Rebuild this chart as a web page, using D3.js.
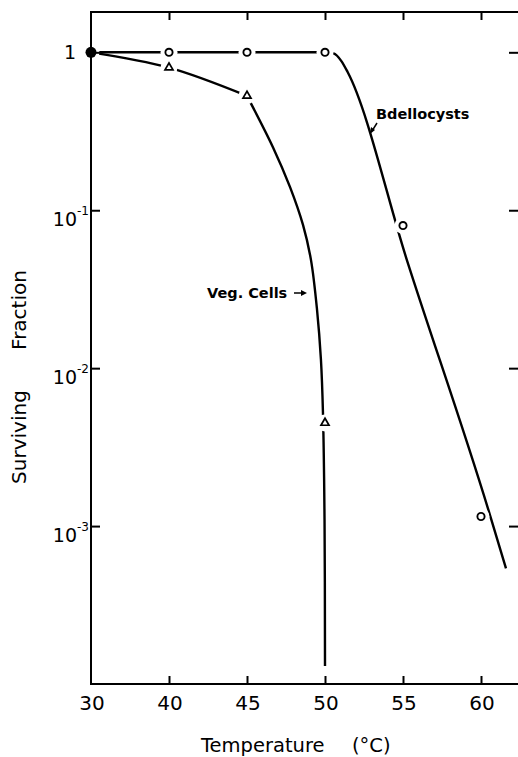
<!DOCTYPE html>
<html>
<head>
<meta charset="utf-8">
<script src="https://cdn.jsdelivr.net/npm/d3@7"></script>
<style>
  body { margin: 0; background: #fff; }
  svg { display: block; font-family: 'DejaVu Sans', sans-serif; }
</style>
</head>
<body>
<div id="chart"></div>
<script>
// axis ticks
const xTicks = [30, 40, 45, 50, 55, 60];
const yTicks = [1, 1e-1, 1e-2, 1e-3];
const yExponents = ['', '-1', '-2', '-3'];

// measured points
const bdelloTemp = [40, 45, 50, 55, 60];
const bdelloFrac = [1, 1, 1, 0.08, 0.00115];
const vegTemp = [40, 45, 50];
const vegFrac = [0.8, 0.53, 0.0045];
const startTemp = [30];
const startFrac = [1];

// fitted curves
const bdelloCurveTemp = [30, 40, 45, 50, 50.55, 51.05, 51.45, 55.26, 60.58, 61.6];
const bdelloCurveFrac = [1, 1, 1, 1, 0.985, 0.88, 0.75, 0.048, 0.00117, 0.00054];
const vegCurveTemp = [30, 40, 45, 46.67, 47.76, 48.59, 49.1, 49.49, 49.74, 49.87, 49.97, 50.0];
const vegCurveFrac = [1, 0.8, 0.53, 0.25, 0.14, 0.0807, 0.0485, 0.0234, 0.0113, 0.0052, 0.0011, 0.00013];

const zip = (a, b) => a.map((d, i) => [d, b[i]]);

const canvasWidth = 518;
const canvasHeight = 757;
const margins = { top: 12, left: 91, right: 520, bottom: 684 };
const step = 78;

const svg = d3.select('#chart')
  .append('svg')
  .attr('width', canvasWidth)
  .attr('height', canvasHeight);

// broken temperature axis: 30-40 takes the same room as 5 degrees
const xDomain = [...xTicks, 65];
const x = d3.scaleLinear()
  .domain(xDomain)
  .range(xDomain.map((d, i) => margins.left + i * step));
const y = d3.scaleLog()
  .domain([1e-4, 1.8])
  .range([margins.bottom, margins.top]);

const monotone = d3.line()
  .x(d => x(d[0]))
  .y(d => y(d[1]))
  .curve(d3.curveMonotoneX);
const smooth = d3.line()
  .x(d => x(d[0]))
  .y(d => y(d[1]))
  .curve(d3.curveCatmullRom.alpha(0.5));

const plot = svg.append('g');

const drawCurve = (points, gen) => plot.append('path')
  .datum(points)
  .attr('d', gen)
  .attr('fill', 'none')
  .attr('stroke', '#000')
  .attr('stroke-width', 2.4);

drawCurve(zip(bdelloCurveTemp, bdelloCurveFrac), monotone);

// the veg curve bends sharply at the 45 degree point
const vegCurve = zip(vegCurveTemp, vegCurveFrac);
drawCurve(vegCurve.filter(d => d[0] <= 45), smooth);
drawCurve(vegCurve.filter(d => d[0] >= 45), smooth);

// white gaps round the markers
const allPoints = [
  ...zip(bdelloTemp, bdelloFrac),
  ...zip(vegTemp, vegFrac),
  ...zip(startTemp, startFrac),
];
plot.append('g')
  .selectAll('circle')
  .data(allPoints)
  .enter()
  .append('circle')
    .attr('cx', d => x(d[0]))
    .attr('cy', d => y(d[1]))
    .attr('r', 8.5)
    .attr('fill', '#fff');

plot.append('g')
  .selectAll('circle')
  .data(zip(bdelloTemp, bdelloFrac))
  .enter()
  .append('circle')
    .attr('cx', d => x(d[0]))
    .attr('cy', d => y(d[1]))
    .attr('r', 3.6)
    .attr('fill', '#fff')
    .attr('stroke', '#000')
    .attr('stroke-width', 1.9);

plot.append('g')
  .selectAll('path')
  .data(zip(vegTemp, vegFrac))
  .enter()
  .append('path')
    .attr('d', d3.symbol(d3.symbolTriangle, 28))
    .attr('transform', d => `translate(${x(d[0])}, ${y(d[1])})`)
    .attr('fill', '#fff')
    .attr('stroke', '#000')
    .attr('stroke-width', 1.7);

plot.append('g')
  .selectAll('circle')
  .data(zip(startTemp, startFrac))
  .enter()
  .append('circle')
    .attr('cx', d => x(d[0]))
    .attr('cy', d => y(d[1]))
    .attr('r', 5.5)
    .attr('fill', '#000');

// frame and inward ticks
svg.append('rect')
  .attr('x', margins.left)
  .attr('y', margins.top)
  .attr('width', margins.right - margins.left)
  .attr('height', margins.bottom - margins.top)
  .attr('fill', 'none')
  .attr('stroke', '#000')
  .attr('stroke-width', 2);

const styleAxis = g => {
  g.select('.domain').remove();
  g.selectAll('.tick line').attr('stroke', '#000').attr('stroke-width', 2);
  g.selectAll('.tick text').remove();
};

svg.append('g')
  .attr('transform', `translate(0, ${margins.bottom})`)
  .call(d3.axisBottom(x).tickValues(xTicks.slice(1)).tickSize(-8))
  .call(styleAxis);
svg.append('g')
  .attr('transform', `translate(0, ${margins.top})`)
  .call(d3.axisTop(x).tickValues(xTicks.slice(1)).tickSize(-8))
  .call(styleAxis);
svg.append('g')
  .attr('transform', `translate(${margins.left}, 0)`)
  .call(d3.axisLeft(y).tickValues(yTicks).tickSize(-9))
  .call(styleAxis);
svg.append('g')
  .attr('transform', `translate(${margins.right - 2}, 0)`)
  .call(d3.axisRight(y).tickValues(yTicks).tickSize(-9))
  .call(styleAxis);

// tick labels
svg.append('g')
  .selectAll('text')
  .data(xTicks)
  .enter()
  .append('text')
    .attr('x', d => x(d) + 1)
    .attr('y', margins.bottom + 26)
    .attr('text-anchor', 'middle')
    .attr('font-size', 20)
    .text(d => d);

const yLabels = svg.append('g')
  .selectAll('text')
  .data(zip(yTicks, yExponents))
  .enter()
  .append('text')
    .attr('text-anchor', 'end')
    .attr('font-size', 19)
    .attr('x', d => (d[1] ? margins.left - 2 : margins.left - 15))
    .attr('y', d => y(d[0]) + (d[1] ? 16 : 7));

yLabels.append('tspan')
  .text(d => (d[1] ? '10' : '1'));
yLabels.filter(d => d[1])
  .append('tspan')
    .attr('font-size', 12)
    .attr('dy', -11)
    .text(d => d[1]);

// axis titles
svg.append('text')
  .attr('x', 201)
  .attr('y', 752)
  .attr('font-size', 19.5)
  .text('Temperature');
svg.append('text')
  .attr('x', 352)
  .attr('y', 752)
  .attr('font-size', 19.5)
  .text('(°C)');

svg.append('text')
  .attr('transform', 'translate(26, 437) rotate(-90)')
  .attr('text-anchor', 'middle')
  .attr('font-size', 20)
  .text('Surviving');
svg.append('text')
  .attr('transform', 'translate(26, 310) rotate(-90)')
  .attr('text-anchor', 'middle')
  .attr('font-size', 20)
  .text('Fraction');

// curve labels
svg.append('text')
  .attr('x', 376)
  .attr('y', 119)
  .attr('font-size', 14.5)
  .attr('font-weight', 'bold')
  .text('Bdellocysts');
svg.append('line')
  .attr('x1', 377).attr('y1', 123)
  .attr('x2', 372).attr('y2', 131)
  .attr('stroke', '#000')
  .attr('stroke-width', 1.5);
svg.append('path')
  .attr('d', 'M370,134 L371,127 L375,130 Z')
  .attr('fill', '#000');

svg.append('text')
  .attr('x', 207)
  .attr('y', 298)
  .attr('font-size', 14.5)
  .attr('font-weight', 'bold')
  .text('Veg. Cells');
svg.append('line')
  .attr('x1', 294).attr('y1', 293)
  .attr('x2', 303).attr('y2', 293)
  .attr('stroke', '#000')
  .attr('stroke-width', 1.5);
svg.append('path')
  .attr('d', 'M307,293 L301,290 L301,296 Z')
  .attr('fill', '#000');
</script>
</body>
</html>
